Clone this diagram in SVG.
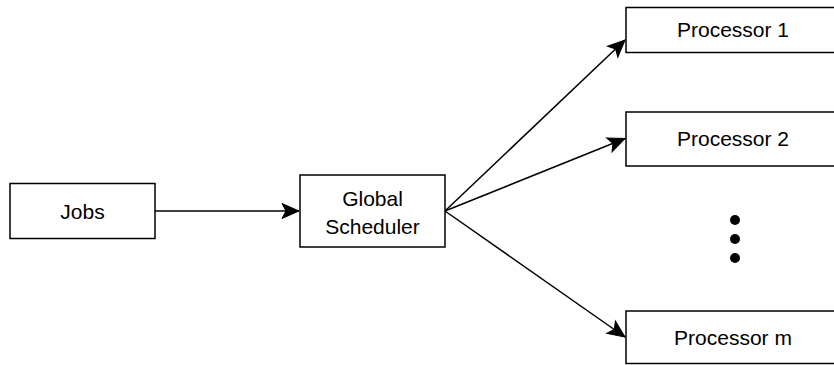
<svg xmlns="http://www.w3.org/2000/svg" width="834" height="365" viewBox="0 0 834 365">
<style>
.box{fill:#fff;stroke:#000;stroke-width:1.5}
.lbl{font-family:"Liberation Sans",Arial,sans-serif;font-size:21px;fill:#000;text-anchor:middle}
.edge{stroke:#000;stroke-width:1.5;fill:none}
</style>
<defs>
<marker id="arr" markerUnits="userSpaceOnUse" markerWidth="22" markerHeight="22" viewBox="0 0 22 22" refX="20" refY="11" orient="auto">
<path d="M3,3.5 L20,11 L3,18.5 L7,11 z" fill="#000" stroke="#000" stroke-width="1"/>
</marker>
</defs>
<rect width="834" height="365" fill="#fff"/>
<g id="connectors">
<line class="edge" x1="155" y1="211" x2="299" y2="211" marker-end="url(#arr)"/>
<line class="edge" x1="445" y1="211" x2="625" y2="40" marker-end="url(#arr)"/>
<line class="edge" x1="445" y1="211" x2="625" y2="138.5" marker-end="url(#arr)"/>
<line class="edge" x1="445" y1="211" x2="625" y2="337" marker-end="url(#arr)"/>
</g>
<g id="jobs">
<rect class="box" x="10" y="183.5" width="145" height="55"/>
<text class="lbl" x="82.5" y="218.5">Jobs</text>
</g>
<g id="scheduler">
<rect class="box" x="300" y="175" width="145" height="72"/>
<text class="lbl" x="372.5" y="206">Global</text>
<text class="lbl" x="372.5" y="233.5">Scheduler</text>
</g>
<g id="p1">
<rect class="box" x="626" y="7.5" width="212" height="45"/>
<text class="lbl" x="733" y="37">Processor 1</text>
</g>
<g id="p2">
<rect class="box" x="626" y="112" width="212" height="54"/>
<text class="lbl" x="733" y="146">Processor 2</text>
</g>
<g id="dots">
<circle cx="735" cy="220" r="5"/>
<circle cx="735" cy="239" r="5"/>
<circle cx="735" cy="258" r="5"/>
</g>
<g id="pm">
<rect class="box" x="626" y="311" width="212" height="52.5"/>
<text class="lbl" x="733" y="344.5">Processor m</text>
</g>
</svg>
